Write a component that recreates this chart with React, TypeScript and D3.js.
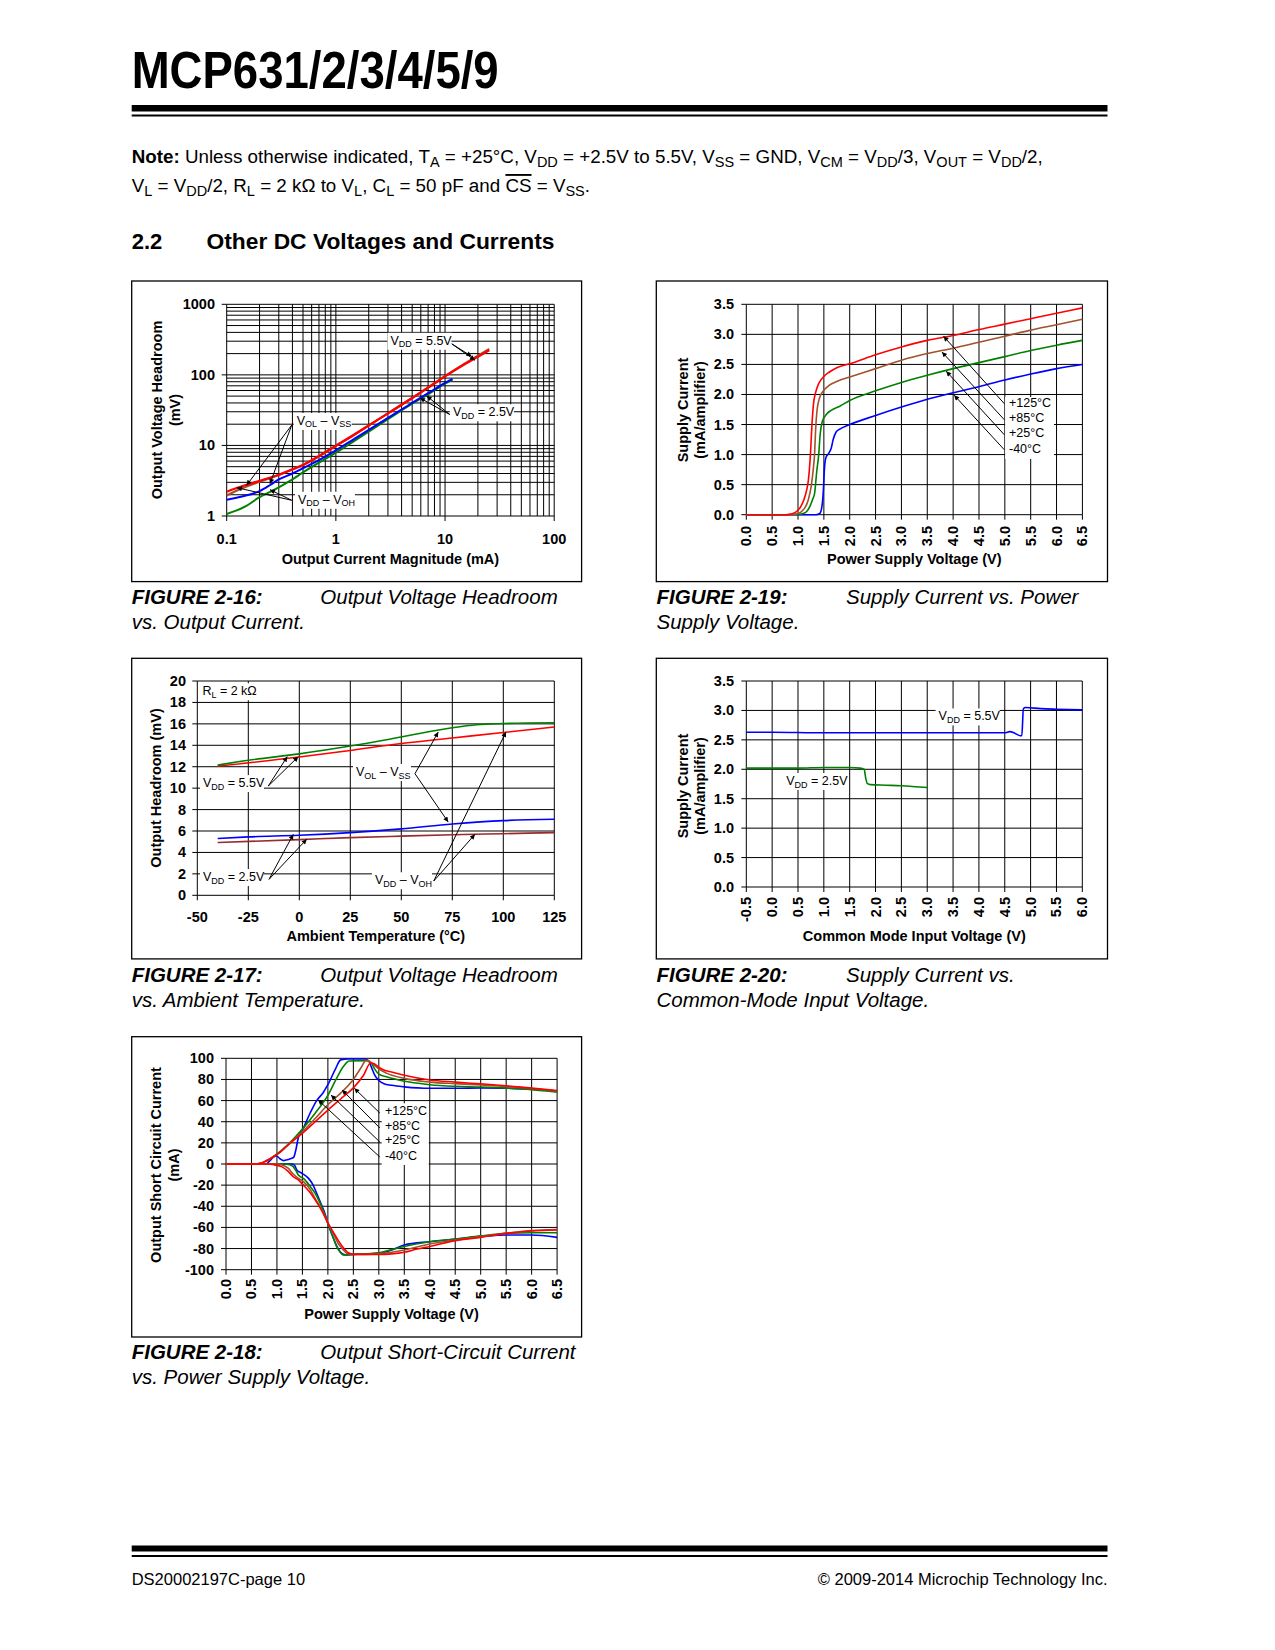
import React from 'react';
import * as d3 from 'd3';

const FONT = "'Liberation Sans', Arial, Helvetica, sans-serif";
const NARROW = "'Liberation Sans Narrow', 'Arial Narrow', 'Liberation Sans', Arial, sans-serif";

const RED = '#ff0000';
const BROWN = '#a0522d';
const GREEN = '#008000';
const BLUE = '#0000ff';
const MAROON = '#9a2b2b';

type Pt = [number, number];

// ---------------- Figure 2-16 : headroom vs output current (log-log) ----------------
const f16XGrid = [0.1, 0.2, 0.3, 0.4, 0.5, 0.6, 0.7, 0.8, 0.9, 1, 2, 3, 4, 5, 6, 7, 8, 9, 10, 20, 30, 40, 50, 60, 70, 80, 90, 100];
const f16YGrid = [1, 2, 3, 4, 5, 6, 7, 8, 9, 10, 20, 30, 40, 50, 60, 70, 80, 90, 100, 200, 300, 400, 500, 600, 700, 800, 900, 1000];
const f16XTicks = [0.1, 1, 10, 100];
const f16XLabels = ['0.1', '1', '10', '100'];
const f16YTicks = [1, 10, 100, 1000];
const f16YLabels = ['1', '10', '100', '1000'];
const f16Red: Pt[] = [[0.1, 2.2], [0.12, 2.45], [0.15, 2.75], [0.2, 3.15], [0.3, 3.85], [0.4, 4.6], [0.5, 5.3], [0.7, 7.1], [1, 9.9], [1.5, 14.5], [2, 19.2], [3, 28.5], [5, 47], [7, 66], [10, 95], [15, 140], [20, 180], [25.4, 223]];
const f16Brown: Pt[] = [[0.1, 1.95], [0.12, 2.25], [0.15, 2.6], [0.2, 3.05], [0.3, 3.8], [0.4, 4.55], [0.5, 5.25], [0.7, 7.0], [1, 9.8], [1.5, 14.4], [2, 19.1], [3, 28.4], [5, 47], [7, 66], [10, 96], [15, 143], [20, 187], [25.4, 232]];
const f16Blue: Pt[] = [[0.1, 1.7], [0.12, 1.8], [0.15, 1.95], [0.2, 2.25], [0.25, 2.75], [0.3, 3.3], [0.4, 4.0], [0.5, 4.75], [0.7, 6.2], [1, 8.5], [1.5, 12.6], [2, 16.6], [3, 24.6], [5, 40], [7, 55], [10, 77], [11.7, 88]];
const f16Green: Pt[] = [[0.1, 1.07], [0.12, 1.18], [0.15, 1.38], [0.2, 1.85], [0.25, 2.2], [0.3, 2.55], [0.4, 3.3], [0.5, 4.15], [0.7, 5.7], [1, 7.9], [1.5, 11.8], [2, 15.7], [3, 23.5], [5, 39], [7, 53], [10, 75], [11.7, 85]];
const f16Vdd55Pos: Pt = [3.16, 267];
const f16Vdd55From: Pt = [11.5, 276];
const f16Vdd55To: Pt[] = [[17.5, 183], [18.8, 161]];
const f16Vdd25Pos: Pt = [11.8, 25.9];
const f16Vdd25From: Pt = [11.1, 27.3];
const f16Vdd25To: Pt[] = [[5.89, 47], [6.79, 50.2]];
const f16VolPos: Pt = [0.438, 19.5];
const f16VolFrom: Pt = [0.394, 19.4];
const f16VolTo: Pt[] = [[0.152, 2.72], [0.249, 2.87]];
const f16VohPos: Pt = [0.45, 1.49];
const f16VohFrom: Pt = [0.394, 1.67];
const f16VohTo: Pt[] = [[0.124, 2.52], [0.249, 2.36]];

// ---------------- Figure 2-19 : supply current vs supply voltage ----------------
const f19XTicks = [0, 0.5, 1, 1.5, 2, 2.5, 3, 3.5, 4, 4.5, 5, 5.5, 6, 6.5];
const f19XLabels = ['0.0', '0.5', '1.0', '1.5', '2.0', '2.5', '3.0', '3.5', '4.0', '4.5', '5.0', '5.5', '6.0', '6.5'];
const f19YTicks = [0, 0.5, 1, 1.5, 2, 2.5, 3, 3.5];
const f19YLabels = ['0.0', '0.5', '1.0', '1.5', '2.0', '2.5', '3.0', '3.5'];
const f19Red: Pt[] = [[0, 0], [0.75, 0], [0.85, 0.01], [0.95, 0.04], [1.05, 0.13], [1.11, 0.24], [1.17, 0.42], [1.2, 0.57], [1.24, 1.0], [1.27, 1.5], [1.3, 1.85], [1.34, 2.03], [1.4, 2.18], [1.5, 2.3], [1.6, 2.37], [1.76, 2.45], [2.0, 2.51], [2.5, 2.66], [3, 2.79], [3.5, 2.9], [4, 2.98], [4.5, 3.08], [5, 3.17], [5.5, 3.26], [6, 3.35], [6.5, 3.44]];
const f19Brown: Pt[] = [[0, 0], [0.85, 0], [0.95, 0.01], [1.05, 0.04], [1.12, 0.1], [1.2, 0.25], [1.26, 0.5], [1.3, 0.8], [1.32, 1.0], [1.34, 1.4], [1.37, 1.75], [1.42, 1.95], [1.5, 2.07], [1.6, 2.15], [1.76, 2.22], [2.0, 2.29], [2.5, 2.43], [3, 2.57], [3.5, 2.68], [4, 2.77], [4.5, 2.87], [5, 2.97], [5.5, 3.07], [6, 3.16], [6.5, 3.25]];
const f19Green: Pt[] = [[0, 0], [0.95, 0], [1.05, 0.01], [1.15, 0.04], [1.22, 0.12], [1.28, 0.25], [1.32, 0.35], [1.36, 0.7], [1.4, 1.0], [1.43, 1.35], [1.47, 1.55], [1.55, 1.67], [1.65, 1.74], [1.8, 1.8], [2.0, 1.9], [2.5, 2.06], [3, 2.2], [3.5, 2.32], [4, 2.43], [4.5, 2.53], [5, 2.63], [5.5, 2.73], [6, 2.82], [6.5, 2.9]];
const f19Blue: Pt[] = [[0, 0], [1.35, 0], [1.42, 0.02], [1.46, 0.12], [1.49, 0.4], [1.51, 0.75], [1.54, 0.95], [1.6, 1.03], [1.64, 1.1], [1.68, 1.25], [1.74, 1.38], [1.8, 1.42], [2.0, 1.5], [2.5, 1.65], [3, 1.79], [3.5, 1.92], [4, 2.03], [4.5, 2.13], [5, 2.24], [5.5, 2.34], [6, 2.43], [6.5, 2.5]];
const f19TempLabels = ['+125°C', '+85°C', '+25°C', '-40°C'];
const f19LabelX = 5.08;
const f19LabelY = [1.79, 1.534, 1.285, 1.027];
const f19BoxX = [5.006, 5.95];
const f19BoxY = [1.958, 0.927];
const f19ArrowFromX = 4.99;
const f19ArrowFromY = [1.847, 1.58, 1.33, 1.08];
const f19ArrowTo: Pt[] = [[3.815, 2.968], [3.784, 2.707], [3.867, 2.386], [4.021, 1.987]];

// ---------------- Figure 2-17 : headroom vs temperature ----------------
const f17XTicks = [-50, -25, 0, 25, 50, 75, 100, 125];
const f17XLabels = ['-50', '-25', '0', '25', '50', '75', '100', '125'];
const f17YTicks = [0, 2, 4, 6, 8, 10, 12, 14, 16, 18, 20];
const f17YLabels = ['0', '2', '4', '6', '8', '10', '12', '14', '16', '18', '20'];
const f17Green: Pt[] = [[-40, 12.15], [-25, 12.6], [0, 13.2], [25, 13.93], [50, 14.77], [75, 15.64], [87, 15.92], [100, 16.03], [112, 16.08], [125, 16.1]];
const f17Red: Pt[] = [[-40, 12.05], [0, 12.9], [25, 13.52], [50, 14.16], [75, 14.68], [100, 15.2], [125, 15.7]];
const f17Blue: Pt[] = [[-40, 5.3], [-25, 5.45], [0, 5.6], [25, 5.85], [50, 6.2], [75, 6.65], [100, 6.97], [125, 7.1]];
const f17Maroon: Pt[] = [[-40, 4.93], [0, 5.2], [25, 5.38], [50, 5.52], [75, 5.65], [100, 5.75], [125, 5.85]];
const f17RlPos: Pt = [-47.5, 18.67];
const f17Vdd55Pos: Pt = [-47.2, 10.1];
const f17Vdd55From: Pt = [-15.2, 10.2];
const f17Vdd55To: Pt[] = [[-5.9, 12.94], [-0.5, 12.94]];
const f17Vdd25Pos: Pt = [-47.2, 1.33];
const f17Vdd25From: Pt = [-14.85, 1.49];
const f17Vdd25To: Pt[] = [[-2.94, 5.69], [3.63, 5.23]];
const f17VolPos: Pt = [27.8, 11.13];
const f17VolFrom: Pt = [56.7, 11.35];
const f17VolTo: Pt[] = [[68.1, 15.24], [73.0, 6.84]];
const f17VohPos: Pt = [37.1, 1.03];
const f17VohFrom: Pt = [65.9, 1.33];
const f17VohTo: Pt[] = [[101.3, 15.24], [86.1, 5.69]];

// ---------------- Figure 2-20 : supply current vs common mode ----------------
const f20XTicks = [-0.5, 0, 0.5, 1, 1.5, 2, 2.5, 3, 3.5, 4, 4.5, 5, 5.5, 6];
const f20XLabels = ['-0.5', '0.0', '0.5', '1.0', '1.5', '2.0', '2.5', '3.0', '3.5', '4.0', '4.5', '5.0', '5.5', '6.0'];
const f20YTicks = [0, 0.5, 1, 1.5, 2, 2.5, 3, 3.5];
const f20YLabels = ['0.0', '0.5', '1.0', '1.5', '2.0', '2.5', '3.0', '3.5'];
const f20Blue: Pt[] = [[-0.5, 2.63], [0, 2.63], [1, 2.62], [2, 2.62], [3, 2.62], [4, 2.62], [4.5, 2.62], [4.6, 2.64], [4.7, 2.61], [4.8, 2.57], [4.83, 2.57], [4.86, 3.03], [4.9, 3.05], [5.2, 3.03], [5.5, 3.02], [6, 3.01]];
const f20Green: Pt[] = [[-0.5, 2.02], [0, 2.02], [0.5, 2.02], [1, 2.03], [1.5, 2.03], [1.7, 2.02], [1.78, 2.0], [1.81, 1.85], [1.84, 1.76], [1.9, 1.74], [2.2, 1.73], [2.5, 1.72], [3.0, 1.69]];
const f20Vdd55Pos: Pt = [3.22, 2.83];
const f20Vdd25Pos: Pt = [0.272, 1.733];

// ---------------- Figure 2-18 : short circuit current ----------------
const f18XTicks = [0, 0.5, 1, 1.5, 2, 2.5, 3, 3.5, 4, 4.5, 5, 5.5, 6, 6.5];
const f18XLabels = ['0.0', '0.5', '1.0', '1.5', '2.0', '2.5', '3.0', '3.5', '4.0', '4.5', '5.0', '5.5', '6.0', '6.5'];
const f18YTicks = [-100, -80, -60, -40, -20, 0, 20, 40, 60, 80, 100];
const f18YLabels = ['-100', '-80', '-60', '-40', '-20', '0', '20', '40', '60', '80', '100'];
const f18BluePos: Pt[] = [[0, 0], [0.78, 0], [0.85, 2.5], [0.92, 6], [0.99, 7.5], [1.06, 5], [1.13, 3.2], [1.22, 4.2], [1.29, 5.4], [1.33, 6.5], [1.37, 13], [1.42, 25], [1.5, 32], [1.65, 48], [1.78, 60], [1.9, 67], [2.0, 75], [2.15, 90], [2.25, 98.5], [2.4, 99.3], [2.72, 99.3], [2.8, 97.5], [2.86, 91], [2.92, 84], [3.0, 79], [3.1, 76], [3.25, 74.5], [3.5, 73], [4.0, 71.6], [4.5, 71.6], [5.0, 72], [5.5, 71.8], [6.0, 70.8], [6.5, 69]];
const f18GreenPos: Pt[] = [[0, 0], [0.55, 0], [0.65, 0.5], [0.75, 2], [0.85, 4.5], [0.95, 7.8], [1.03, 10.5], [1.15, 15.5], [1.29, 22], [1.5, 33], [1.75, 48], [2.0, 65], [2.15, 79], [2.3, 92], [2.42, 97.5], [2.76, 97.8], [2.86, 95], [2.93, 89], [3.0, 85], [3.15, 82.5], [3.35, 80], [3.6, 77.5], [4.0, 75], [4.5, 73.5], [5.0, 72.8], [5.5, 71.8], [6.0, 70.3], [6.5, 68]];
const f18BrownPos: Pt[] = [[0, 0], [0.55, 0], [0.65, 0.5], [0.75, 2], [0.85, 4.5], [0.95, 7.5], [1.03, 10], [1.15, 15], [1.29, 21.5], [1.5, 30.5], [1.75, 43], [2.0, 56], [2.25, 67], [2.5, 80], [2.65, 91], [2.75, 98], [2.82, 97], [2.9, 94], [3.0, 90], [3.15, 86], [3.5, 81], [4.0, 77.5], [4.5, 76], [5.0, 74.8], [5.5, 73.3], [6.0, 71.5], [6.5, 69]];
const f18RedPos: Pt[] = [[0, 0], [0.55, 0], [0.65, 0.5], [0.75, 2], [0.85, 4.5], [0.95, 7.5], [1.03, 10], [1.15, 15], [1.29, 21], [1.5, 29], [1.75, 40], [2.0, 51], [2.25, 61.5], [2.5, 72], [2.7, 84], [2.84, 95.5], [2.9, 95], [3.0, 91.5], [3.1, 89], [3.25, 87], [3.5, 84], [4.0, 79.5], [4.5, 77.5], [5.0, 75.8], [5.5, 74], [6.0, 71.8], [6.5, 69.5]];
const f18RedNeg: Pt[] = [[0, 0], [0.85, 0], [0.95, -0.8], [1.09, -2.5], [1.22, -7], [1.32, -12], [1.42, -15], [1.52, -20], [1.65, -27], [1.75, -34], [1.9, -46], [2.0, -56], [2.1, -64], [2.2, -72], [2.3, -79], [2.4, -84], [2.5, -85.5], [3.0, -85.5], [3.25, -85], [3.5, -83.5], [3.75, -80.5], [4.0, -78], [4.5, -72.5], [5.0, -69.4], [5.5, -65.6], [6.0, -63.4], [6.5, -62.5]];
const f18BrownNeg: Pt[] = [[0, 0], [1.0, 0], [1.1, -1], [1.22, -4], [1.32, -9.5], [1.42, -13.6], [1.52, -16.7], [1.65, -24], [1.75, -32.5], [1.9, -45], [2.0, -55.5], [2.1, -65], [2.2, -75], [2.3, -81], [2.37, -84.5], [2.5, -85.5], [3.0, -85], [3.25, -83.5], [3.5, -81.4], [4.0, -75.7], [4.5, -72], [5.0, -68.7], [5.5, -65.6], [6.0, -63], [6.5, -62]];
const f18GreenNeg: Pt[] = [[0, 0], [1.15, 0], [1.25, -0.8], [1.32, -2.5], [1.37, -6], [1.42, -10.4], [1.52, -13.6], [1.65, -21], [1.75, -27.7], [1.9, -43], [2.0, -56], [2.1, -69], [2.17, -78], [2.25, -84], [2.3, -86], [2.5, -85.5], [3.0, -84], [3.25, -81], [3.5, -78], [4.0, -73.5], [4.5, -71], [5.0, -68], [5.5, -65.6], [6.0, -65], [6.5, -65]];
const f18BlueNeg: Pt[] = [[0, 0], [1.3, 0], [1.35, -1.5], [1.39, -5.7], [1.49, -8.8], [1.62, -13.6], [1.7, -19], [1.78, -27.7], [1.86, -37], [1.94, -46.7], [2.0, -56], [2.07, -65.6], [2.15, -75], [2.24, -83], [2.34, -86], [2.5, -85.5], [3.0, -84.5], [3.25, -81.4], [3.5, -76.6], [4.0, -73.5], [4.5, -71], [5.0, -68.7], [5.5, -67.2], [6.0, -67.2], [6.5, -69.4]];
const f18TempLabels = ['+125°C', '+85°C', '+25°C', '-40°C'];
const f18LabelX = 3.12;
const f18LabelY = [46.4, 32.2, 18.6, 3.8];
const f18BoxX = [3.057, 3.98];
const f18BoxY = [57.4, -0.95];
const f18ArrowFromX = 3.02;
const f18ArrowFromY = [48.2, 34.1, 20.8, 6.6];
const f18ArrowTo: Pt[] = [[2.52, 71.6], [2.28, 70], [2.06, 65.3], [1.81, 60.5]];

// ---------------- helpers ----------------
type Part = { t: string; sub?: boolean; over?: boolean; bold?: boolean };
function parseRich(s: string): Part[] {
  const out: Part[] = [];
  const re = /_\{([^}]*)\}|~\{([^}]*)\}|\*\{([^}]*)\}/g;
  let last = 0;
  let m: RegExpExecArray | null;
  while ((m = re.exec(s))) {
    if (m.index > last) out.push({ t: s.slice(last, m.index) });
    if (m[1] !== undefined) out.push({ t: m[1], sub: true });
    else if (m[2] !== undefined) out.push({ t: m[2], over: true });
    else out.push({ t: m[3], bold: true });
    last = re.lastIndex;
  }
  if (last < s.length) out.push({ t: s.slice(last) });
  return out;
}

function Rich(props: any) {
  const { x, y, s, size, subSize, subShift, anchor, family, weight, italic, textLength } = props;
  const parts = parseRich(s);
  let cur = 0;
  return (
    <text x={x} y={y} fontSize={size} fontFamily={family || FONT} fontWeight={weight}
      fontStyle={italic ? 'italic' : undefined} textAnchor={anchor}
      textLength={textLength} lengthAdjust={textLength ? 'spacingAndGlyphs' : undefined}
      fill="#000" style={{ whiteSpace: 'pre' }}>
      {parts.map((p, i) => {
        const target = p.sub ? subShift : 0;
        const dy = target - cur;
        cur = target;
        return (
          <tspan key={i} dy={dy} fontSize={p.sub ? subSize : undefined}
            fontWeight={p.bold ? 'bold' : undefined}
            textDecoration={p.over ? 'overline' : undefined}>{p.t}</tspan>
        );
      })}
    </text>
  );
}

function Label({ x, y, s, w }: { x: number; y: number; s: string; w: number }) {
  return (
    <g>
      <rect x={x - 3} y={y - 12} width={w + 6} height={17} fill="#fff" />
      <Rich x={x} y={y} s={s} size={12.5} subSize={9} subShift={2.5} />
    </g>
  );
}

function Arrow({ x1, y1, x2, y2 }: { x1: number; y1: number; x2: number; y2: number }) {
  return <line x1={x1} y1={y1} x2={x2} y2={y2} stroke="#000" strokeWidth={1} markerEnd="url(#arrowHead)" />;
}

function Chart(p: any) {
  const [bx, by, bw, bh] = p.box;
  const [px0, px1] = p.x.range();
  const [py0, py1] = p.y.range();
  const line = d3.line<Pt>().x(d => p.x(d[0])).y(d => p.y(d[1])).curve(d3.curveMonotoneX);
  const tickFont = { fontFamily: FONT, fontWeight: 'bold', fontSize: 14.5 } as const;
  return (
    <g>
      <rect x={bx} y={by} width={bw} height={bh} fill="#fff" stroke="#000" strokeWidth={1.3} />
      {p.xGrid.map((v: number, i: number) => (
        <line key={'gx' + i} x1={p.x(v)} x2={p.x(v)} y1={py0} y2={py1} stroke="#000" strokeWidth={1} />
      ))}
      {p.yGrid.map((v: number, i: number) => (
        <line key={'gy' + i} x1={px0} x2={px1} y1={p.y(v)} y2={p.y(v)} stroke="#000" strokeWidth={1} />
      ))}
      {p.xTicks.map((v: number, i: number) => (
        <line key={'tx' + i} x1={p.x(v)} x2={p.x(v)} y1={py0} y2={py0 + 5} stroke="#000" strokeWidth={1} />
      ))}
      {p.yTicks.map((v: number, i: number) => (
        <line key={'ty' + i} x1={px0 - 5} x2={px0} y1={p.y(v)} y2={p.y(v)} stroke="#000" strokeWidth={1} />
      ))}
      {p.yTicks.map((v: number, i: number) => (
        <text key={'ly' + i} x={p.yLabX} y={p.y(v) + 5} textAnchor="end" {...tickFont}>{p.yLabels[i]}</text>
      ))}
      {p.xTicks.map((v: number, i: number) =>
        p.rotX ? (
          <text key={'lx' + i} transform={`translate(${p.x(v) + 5},${p.xLabY}) rotate(-90)`} textAnchor="end" {...tickFont}>{p.xLabels[i]}</text>
        ) : (
          <text key={'lx' + i} x={p.x(v)} y={p.xLabY} textAnchor="middle" {...tickFont}>{p.xLabels[i]}</text>
        )
      )}
      <text x={(px0 + px1) / 2} y={p.xTitleY} textAnchor="middle" {...tickFont}>{p.xTitle}</text>
      {p.yTitle.map((t: string, i: number) => (
        <text key={'yt' + i} transform={`translate(${p.yTitleX[i]},${p.yTitleCY}) rotate(-90)`} textAnchor="middle" {...tickFont}>{t}</text>
      ))}
      {p.series.map((s: any, i: number) => (
        <path key={'s' + i} d={line(s.data) || ''} fill="none" stroke={s.color} strokeWidth={s.width || 1.6} strokeLinejoin="round" />
      ))}
      {p.children}
    </g>
  );
}

function Caption({ x, x2, y, fig, t1, t2 }: any) {
  return (
    <g fontFamily={FONT} fontSize={20.5} fontStyle="italic">
      <text x={x} y={y} fontWeight="bold">{fig}</text>
      <text x={x2} y={y}>{t1}</text>
      <text x={x} y={y + 25}>{t2}</text>
    </g>
  );
}

export default function App() {
  // Figure 2-16 scales
  const x16 = d3.scaleLog().domain([0.1, 100]).range([226.7, 554.2]);
  const y16 = d3.scaleLog().domain([1, 1000]).range([516, 304.3]);
  // Figure 2-19
  const x19 = d3.scaleLinear().domain([0, 6.5]).range([746.3, 1082.4]);
  const y19 = d3.scaleLinear().domain([0, 3.5]).range([514.7, 304.3]);
  // Figure 2-17
  const x17 = d3.scaleLinear().domain([-50, 125]).range([197.3, 554.3]);
  const y17 = d3.scaleLinear().domain([0, 20]).range([895.3, 681]);
  // Figure 2-20
  const x20 = d3.scaleLinear().domain([-0.5, 6]).range([746.3, 1082.3]);
  const y20 = d3.scaleLinear().domain([0, 3.5]).range([887, 681]);
  // Figure 2-18
  const x18 = d3.scaleLinear().domain([0, 6.5]).range([226, 557.1]);
  const y18 = d3.scaleLinear().domain([-100, 100]).range([1269.7, 1058.3]);

  const arrows = (sx: any, sy: any, from: Pt, tos: Pt[], key: string) =>
    tos.map((t, i) => <Arrow key={key + i} x1={sx(from[0])} y1={sy(from[1])} x2={sx(t[0])} y2={sy(t[1])} />);

  return (
    <svg width={1275} height={1650} viewBox="0 0 1275 1650"
      style={{ position: 'absolute', left: 0, top: 0, background: '#fff' }} fontFamily={FONT}>
      <defs>
        <marker id="arrowHead" viewBox="0 0 10 10" refX={10} refY={5} markerWidth={7} markerHeight={5}
          markerUnits="userSpaceOnUse" orient="auto">
          <path d="M0,0 L10,5 L0,10 z" fill="#000" />
        </marker>
      </defs>
      <rect x={0} y={0} width={1275} height={1650} fill="#fff" />

      {/* Header */}
      <text x={131.7} y={87.5} fontFamily={FONT} fontWeight="bold" fontSize={51} textLength={367} lengthAdjust="spacingAndGlyphs">MCP631/2/3/4/5/9</text>
      <rect x={131.7} y={105} width={975.8} height={6.5} fill="#000" />
      <rect x={131.7} y={114.5} width={975.8} height={2} fill="#000" />

      {/* Note */}
      <Rich x={131.7} y={163.3} size={18.8} subSize={14.5} subShift={4} family={NARROW}
        s={'*{Note:} Unless otherwise indicated, T_{A} = +25°C, V_{DD} = +2.5V to 5.5V, V_{SS} = GND, V_{CM} = V_{DD}/3, V_{OUT} = V_{DD}/2,'} />
      <Rich x={131.7} y={192} size={18.8} subSize={14.5} subShift={4} family={NARROW}
        s={'V_{L} = V_{DD}/2, R_{L} = 2 kΩ to V_{L}, C_{L} = 50 pF and ~{CS} = V_{SS}.'} />

      {/* Section heading */}
      <text x={131.7} y={248.7} fontFamily={FONT} fontWeight="bold" fontSize={22}>2.2</text>
      <text x={206.5} y={248.7} fontFamily={FONT} fontWeight="bold" fontSize={22} textLength={348} lengthAdjust="spacingAndGlyphs">Other DC Voltages and Currents</text>

      {/* Figure 2-16 */}
      <Chart box={[131.7, 281, 449.9, 300.6]} x={x16} y={y16} xGrid={f16XGrid} yGrid={f16YGrid}
        xTicks={f16XTicks} xLabels={f16XLabels} yTicks={f16YTicks} yLabels={f16YLabels}
        rotX={false} xLabY={544} yLabX={215}
        xTitle="Output Current Magnitude (mA)" xTitleY={563.5}
        yTitle={['Output Voltage Headroom', '(mV)']} yTitleX={[161.5, 179.5]} yTitleCY={410}
        series={[
          { data: f16Green, color: GREEN, width: 2 },
          { data: f16Blue, color: BLUE, width: 2 },
          { data: f16Brown, color: BROWN, width: 2.2 },
          { data: f16Red, color: RED, width: 2.2 },
        ]}>
        {arrows(x16, y16, f16Vdd55From, f16Vdd55To, 'a1')}
        {arrows(x16, y16, f16Vdd25From, f16Vdd25To, 'a2')}
        {arrows(x16, y16, f16VolFrom, f16VolTo, 'a3')}
        {arrows(x16, y16, f16VohFrom, f16VohTo, 'a4')}
        <Label x={x16(f16Vdd55Pos[0])} y={y16(f16Vdd55Pos[1])} s={'V_{DD} = 5.5V'} w={58} />
        <Label x={x16(f16Vdd25Pos[0])} y={y16(f16Vdd25Pos[1])} s={'V_{DD} = 2.5V'} w={58} />
        <Label x={x16(f16VolPos[0])} y={y16(f16VolPos[1])} s={'V_{OL} – V_{SS}'} w={52} />
        <Label x={x16(f16VohPos[0])} y={y16(f16VohPos[1])} s={'V_{DD} – V_{OH}'} w={54} />
      </Chart>
      <Caption x={131.7} x2={320.3} y={604} fig="FIGURE 2-16:" t1="Output Voltage Headroom" t2="vs. Output Current." />

      {/* Figure 2-19 */}
      <Chart box={[656.3, 281, 451.2, 300.6]} x={x19} y={y19} xGrid={f19XTicks} yGrid={f19YTicks}
        xTicks={f19XTicks} xLabels={f19XLabels} yTicks={f19YTicks} yLabels={f19YLabels}
        rotX={true} xLabY={526} yLabX={734}
        xTitle="Power Supply Voltage (V)" xTitleY={563.5}
        yTitle={['Supply Current', '(mA/amplifier)']} yTitleX={[687.7, 704.6]} yTitleCY={410}
        series={[
          { data: f19Blue, color: BLUE },
          { data: f19Green, color: GREEN },
          { data: f19Brown, color: BROWN },
          { data: f19Red, color: RED },
        ]}>
        <rect x={x19(f19BoxX[0])} y={y19(f19BoxY[0])} width={x19(f19BoxX[1]) - x19(f19BoxX[0])} height={y19(f19BoxY[1]) - y19(f19BoxY[0])} fill="#fff" />
        {f19ArrowTo.map((t, i) => (
          <Arrow key={'b' + i} x1={x19(f19ArrowFromX)} y1={y19(f19ArrowFromY[i])} x2={x19(t[0])} y2={y19(t[1])} />
        ))}
        {f19TempLabels.map((t, i) => (
          <text key={'tl' + i} x={x19(f19LabelX)} y={y19(f19LabelY[i])} fontFamily={FONT} fontSize={12.5}>{t}</text>
        ))}
      </Chart>
      <Caption x={656.5} x2={846} y={604} fig="FIGURE 2-19:" t1="Supply Current vs. Power" t2="Supply Voltage." />

      {/* Figure 2-17 */}
      <Chart box={[131.7, 658.3, 449.9, 300.6]} x={x17} y={y17} xGrid={f17XTicks} yGrid={f17YTicks}
        xTicks={f17XTicks} xLabels={f17XLabels} yTicks={f17YTicks} yLabels={f17YLabels}
        rotX={false} xLabY={922} yLabX={186}
        xTitle="Ambient Temperature (°C)" xTitleY={941}
        yTitle={['Output Headroom (mV)']} yTitleX={[161.4]} yTitleCY={788}
        series={[
          { data: f17Maroon, color: MAROON },
          { data: f17Blue, color: BLUE },
          { data: f17Red, color: RED },
          { data: f17Green, color: GREEN },
        ]}>
        {arrows(x17, y17, f17Vdd55From, f17Vdd55To, 'c1')}
        {arrows(x17, y17, f17Vdd25From, f17Vdd25To, 'c2')}
        {arrows(x17, y17, f17VolFrom, f17VolTo, 'c3')}
        {arrows(x17, y17, f17VohFrom, f17VohTo, 'c4')}
        <Label x={x17(f17RlPos[0])} y={y17(f17RlPos[1])} s={'R_{L} = 2 kΩ'} w={52} />
        <Label x={x17(f17Vdd55Pos[0])} y={y17(f17Vdd55Pos[1])} s={'V_{DD} = 5.5V'} w={58} />
        <Label x={x17(f17Vdd25Pos[0])} y={y17(f17Vdd25Pos[1])} s={'V_{DD} = 2.5V'} w={58} />
        <Label x={x17(f17VolPos[0])} y={y17(f17VolPos[1])} s={'V_{OL} – V_{SS}'} w={52} />
        <Label x={x17(f17VohPos[0])} y={y17(f17VohPos[1])} s={'V_{DD} – V_{OH}'} w={54} />
      </Chart>
      <Caption x={131.7} x2={320.3} y={982} fig="FIGURE 2-17:" t1="Output Voltage Headroom" t2="vs. Ambient Temperature." />

      {/* Figure 2-20 */}
      <Chart box={[656.3, 658.3, 451.2, 300.6]} x={x20} y={y20} xGrid={f20XTicks} yGrid={f20YTicks}
        xTicks={f20XTicks} xLabels={f20XLabels} yTicks={f20YTicks} yLabels={f20YLabels}
        rotX={true} xLabY={897} yLabX={734}
        xTitle="Common Mode Input Voltage (V)" xTitleY={941}
        yTitle={['Supply Current', '(mA/amplifier)']} yTitleX={[687.7, 704.6]} yTitleCY={786}
        series={[
          { data: f20Green, color: GREEN },
          { data: f20Blue, color: BLUE },
        ]}>
        <Label x={x20(f20Vdd55Pos[0])} y={y20(f20Vdd55Pos[1])} s={'V_{DD} = 5.5V'} w={58} />
        <Label x={x20(f20Vdd25Pos[0])} y={y20(f20Vdd25Pos[1])} s={'V_{DD} = 2.5V'} w={58} />
      </Chart>
      <Caption x={656.5} x2={846} y={982} fig="FIGURE 2-20:" t1="Supply Current vs." t2="Common-Mode Input Voltage." />

      {/* Figure 2-18 */}
      <Chart box={[131.7, 1036.7, 449.9, 300.3]} x={x18} y={y18} xGrid={f18XTicks} yGrid={f18YTicks}
        xTicks={f18XTicks} xLabels={f18XLabels} yTicks={f18YTicks} yLabels={f18YLabels}
        rotX={true} xLabY={1279} yLabX={214}
        xTitle="Power Supply Voltage (V)" xTitleY={1319}
        yTitle={['Output Short Circuit Current', '(mA)']} yTitleX={[161.4, 179]} yTitleCY={1165}
        series={[
          { data: f18BluePos, color: BLUE },
          { data: f18BlueNeg, color: BLUE },
          { data: f18GreenPos, color: GREEN },
          { data: f18GreenNeg, color: GREEN },
          { data: f18BrownPos, color: BROWN },
          { data: f18BrownNeg, color: BROWN },
          { data: f18RedPos, color: RED },
          { data: f18RedNeg, color: RED },
        ]}>
        <rect x={x18(f18BoxX[0])} y={y18(f18BoxY[0])} width={x18(f18BoxX[1]) - x18(f18BoxX[0])} height={y18(f18BoxY[1]) - y18(f18BoxY[0])} fill="#fff" />
        {f18ArrowTo.map((t, i) => (
          <Arrow key={'d' + i} x1={x18(f18ArrowFromX)} y1={y18(f18ArrowFromY[i])} x2={x18(t[0])} y2={y18(t[1])} />
        ))}
        {f18TempLabels.map((t, i) => (
          <text key={'tl' + i} x={x18(f18LabelX)} y={y18(f18LabelY[i])} fontFamily={FONT} fontSize={12.5}>{t}</text>
        ))}
      </Chart>
      <Caption x={131.7} x2={320.3} y={1359} fig="FIGURE 2-18:" t1="Output Short-Circuit Current" t2="vs. Power Supply Voltage." />

      {/* Footer */}
      <rect x={131.7} y={1545.5} width={975.8} height={6} fill="#000" />
      <rect x={131.7} y={1555} width={975.8} height={2} fill="#000" />
      <text x={131.7} y={1585} fontFamily={FONT} fontSize={16.5}>DS20002197C-page 10</text>
      <text x={1107.5} y={1585} fontFamily={FONT} fontSize={16.5} textAnchor="end">© 2009-2014 Microchip Technology Inc.</text>
    </svg>
  );
}
